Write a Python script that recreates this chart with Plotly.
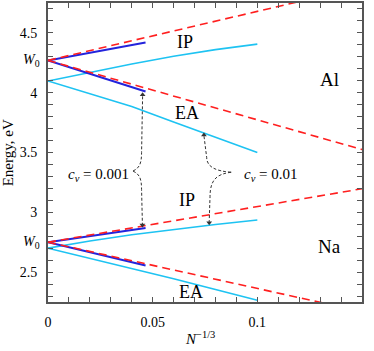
import plotly.graph_objects as go

# N^-1/3 values
x_blue = [0, 0.0466]
x_red = [0, 0.15]
x_cyan = [0, 0.02, 0.04, 0.06, 0.08, 0.1]

# work functions (eV)
W0_al = 4.27
W0_na = 2.75

# Al
al_red_ip = [4.27, 4.885]
al_red_ea = [4.27, 3.525]
al_blue_ip = [4.27, 4.42]
al_blue_ea = [4.27, 4.01]
al_cyan_ip = [4.098, 4.17, 4.24, 4.305, 4.36, 4.406]
al_cyan_ea = [4.098, 3.99, 3.885, 3.755, 3.63, 3.50]

# Na
na_red_ip = [2.75, 3.197]
na_red_ea = [2.75, 2.17]
na_blue_ip = [2.75, 2.868]
na_blue_ea = [2.75, 2.555]
na_cyan_ip = [2.70, 2.76, 2.812, 2.858, 2.898, 2.935]
na_cyan_ea = [2.70, 2.615, 2.532, 2.445, 2.355, 2.265]

y_tickvals = [2.5, 3, 3.5, 4, 4.5]
y_ticktext = ["2.5", "3", "3.5", "4", "4.5"]
x_tickvals = [0, 0.05, 0.1, 0.15]
x_ticktext = ["0", "0.05", "0.1", "0.15"]

RED = "#ff1f1f"
BLUE = "#2323dc"
CYAN = "#1ec3f2"
GREY = "#333333"
FONT = "Liberation Serif"

fig = go.Figure()

def add(x, y, color, width, dash="solid"):
    fig.add_trace(go.Scatter(x=x, y=y, mode="lines", showlegend=False,
                             line=dict(color=color, width=width, dash=dash)))

for ys in [al_cyan_ip, al_cyan_ea, na_cyan_ip, na_cyan_ea]:
    add(x_cyan, ys, CYAN, 1.6)
for ys in [al_blue_ip, al_blue_ea, na_blue_ip, na_blue_ea]:
    add(x_blue, ys, BLUE, 2)
for ys in [al_red_ip, al_red_ea, na_red_ip, na_red_ea]:
    add(x_red, ys, RED, 1.6, "8px,5px")

# dashed braces from the c_v labels
braces = [
    "M 0.0406,3.345 C 0.0435,3.37 0.0447,3.40 0.0447,3.50 L 0.0452,3.975",
    "M 0.0406,3.345 C 0.0435,3.32 0.0447,3.29 0.0447,3.19 L 0.0451,2.90",
    "M 0.0875,3.335 C 0.080,3.345 0.0758,3.38 0.0758,3.46 L 0.0745,3.64",
    "M 0.0875,3.335 C 0.081,3.32 0.0774,3.28 0.0774,3.13 L 0.0770,2.92",
]
for p in braces:
    fig.add_shape(type="path", path=p, xref="x", yref="y",
                  line=dict(color=GREY, width=1, dash="3px,2px"))

# arrow heads
fig.add_trace(go.Scatter(x=[0.0452, 0.0745], y=[3.982, 3.647], mode="markers",
                         showlegend=False,
                         marker=dict(symbol="triangle-up", size=5, color=GREY)))
fig.add_trace(go.Scatter(x=[0.0451, 0.0770], y=[2.893, 2.913], mode="markers",
                         showlegend=False,
                         marker=dict(symbol="triangle-down", size=5, color=GREY)))

def label(x, y, text, size, **kw):
    fig.add_annotation(x=x, y=y, text=text, showarrow=False,
                       font=dict(family=FONT, size=size, color="black"), **kw)

label(0.0654, 4.42, "IP", 18)
label(0.0666, 3.833, "EA", 18)
label(0.0664, 3.10, "IP", 18)
label(0.0685, 2.332, "EA", 18)
label(0.1344, 4.11, "Al", 19)
label(0.1344, 2.713, "Na", 19)
label(0.0397, 3.31, "<i>c<sub>v</sub></i> = 0.001", 15, xanchor="right")
label(0.0925, 3.31, "<i>c<sub>v</sub></i> = 0.01", 15, xanchor="left")

for w in [W0_al, W0_na]:
    fig.add_annotation(x=0, xref="paper", y=w, yref="y", xanchor="right",
                       xshift=-6, text="<i>W</i><sub>0</sub>", showarrow=False,
                       font=dict(family=FONT, size=14, color="black"))

# axis titles
fig.add_annotation(x=-0.128, xref="paper", y=0.5, yref="paper", textangle=-90,
                   xanchor="center", yanchor="middle",
                   text="Energy, eV", showarrow=False,
                   font=dict(family=FONT, size=15, color="black"))
fig.add_annotation(x=0.485, xref="paper", y=-0.12, yref="paper",
                   xanchor="center", yanchor="middle",
                   text="<i>N</i><sup>\u22121/3</sup>", showarrow=False,
                   font=dict(family=FONT, size=15, color="black"))

axis_common = dict(showline=True, linecolor="#555555", linewidth=2, mirror="ticks",
                   ticks="inside", ticklen=5, tickcolor="#555555", tickwidth=1,
                   showgrid=False, zeroline=False,
                   tickfont=dict(family=FONT, size=14, color="black"))

fig.update_xaxes(range=[0, 0.15], tickvals=x_tickvals, ticktext=x_ticktext,
                 minor=dict(dtick=0.01, ticks="inside", ticklen=5, tickcolor="#555555"),
                 ticklabelstandoff=6, **axis_common)
fig.update_yaxes(range=[2.25, 4.75], tickvals=y_tickvals, ticktext=y_ticktext,
                 minor=dict(dtick=0.1, tick0=0, ticks="inside", ticklen=5, tickcolor="#555555"),
                 ticklabelstandoff=6, **axis_common)

fig.update_layout(width=374, height=351, plot_bgcolor="white", paper_bgcolor="white",
                  margin=dict(l=48, r=12, t=1, b=49),
                  font=dict(family=FONT, color="black"))

fig.write_html("out.html", config={"displayModeBar": False},
               post_script="document.body.style.margin='0';")
